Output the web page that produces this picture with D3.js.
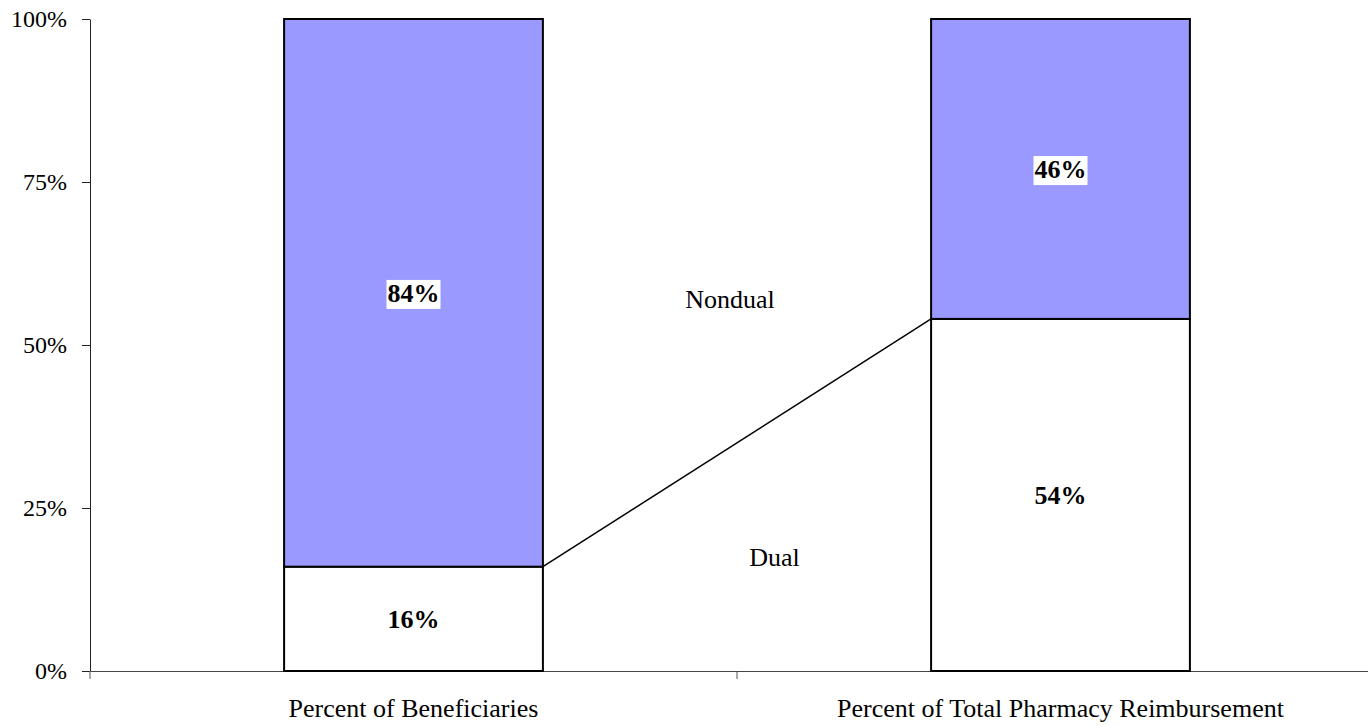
<!DOCTYPE html>
<html><head><meta charset="utf-8">
<script src="https://cdn.jsdelivr.net/npm/d3@7"></script>
<style>body{margin:0;background:#fff}svg{display:block}</style>
</head><body>
<svg id="chart" width="1368" height="726"></svg>
<script>
const categories = ["Percent of Beneficiaries", "Percent of Total Pharmacy Reimbursement"];
const dualValues = [0.16, 0.54];
const nondualValues = [0.84, 0.46];
const yTicks = [0, 0.25, 0.5, 0.75, 1];
const annotations = [
  {text: "Nondual", x: 0.4946, y: 0.57},
  {text: "Dual", x: 0.529, y: 0.175}
];

const svg = d3.select("#chart");
const font = "'Liberation Serif','Times New Roman',serif";
const x = d3.scaleBand().domain(categories).range([90, 1384]).paddingInner(0.6).paddingOuter(0.3);
const y = d3.scaleLinear().domain([0, 1]).range([671, 19]);

// axes
const yAxis = svg.append("g").attr("transform", "translate(90,0)")
  .call(d3.axisLeft(y).tickValues(yTicks).tickFormat(d3.format(".0%")).tickSize(8).tickSizeOuter(0));
yAxis.select(".domain").attr("stroke", "#222");
yAxis.selectAll(".tick line").attr("stroke", "#222");
yAxis.selectAll("text").attr("font-family", font).attr("font-size", 24).attr("fill", "#000").attr("x", -23);

const xAxis = svg.append("g").attr("transform", "translate(0,671)")
  .call(d3.axisBottom(x).tickSize(0).tickSizeOuter(0));
xAxis.select(".domain").attr("stroke", "#444");
xAxis.selectAll("text").attr("font-family", font).attr("font-size", 26).attr("fill", "#000").attr("y", 46).attr("dy", 0);
// boundary ticks between categories
const bounds = [90, 90 + x.step(), 90 + 2*x.step()];
svg.append("g").selectAll("line").data(bounds).join("line")
  .attr("x1", d => d).attr("x2", d => d).attr("y1", 671).attr("y2", 679)
  .attr("stroke", "#555").attr("stroke-width", 1);

// bars
const stacks = categories.map((c, i) => ({c, dual: dualValues[i], nondual: nondualValues[i]}));
const g = svg.append("g");
g.selectAll("rect.dual").data(stacks).join("rect").attr("class", "dual")
  .attr("x", d => x(d.c)).attr("width", x.bandwidth())
  .attr("y", d => y(d.dual)).attr("height", d => y(0) - y(d.dual))
  .attr("fill", "#fff").attr("stroke", "#000").attr("stroke-width", 2);
g.selectAll("rect.nondual").data(stacks).join("rect").attr("class", "nondual")
  .attr("x", d => x(d.c)).attr("width", x.bandwidth())
  .attr("y", d => y(d.dual + d.nondual)).attr("height", d => y(d.dual) - y(d.dual + d.nondual))
  .attr("fill", "#9999FF").attr("stroke", "#000").attr("stroke-width", 2);

// connector line
svg.append("line")
  .attr("x1", x(categories[0]) + x.bandwidth()).attr("y1", y(dualValues[0]))
  .attr("x2", x(categories[1])).attr("y2", y(dualValues[1]))
  .attr("stroke", "#000").attr("stroke-width", 1.5);

// labels
const labels = [];
stacks.forEach(d => {
  labels.push({c: d.c, v: d.dual, mid: d.dual/2, bg: false});
  labels.push({c: d.c, v: d.nondual, mid: d.dual + d.nondual/2, bg: true});
});
const lg = svg.append("g");
labels.forEach(l => {
  const cx = x(l.c) + x.bandwidth()/2, cy = y(l.mid);
  const t = lg.append("text").attr("x", cx).attr("y", cy).attr("dy", "0.35em")
    .attr("text-anchor", "middle").attr("font-family", font).attr("font-weight", "bold")
    .attr("font-size", 26).text(d3.format(".0%")(l.v));
  if (l.bg) {
    const b = t.node().getBBox();
    lg.insert("rect", () => t.node()).attr("x", b.x - 1).attr("y", b.y + 1).attr("width", b.width + 2).attr("height", b.height).attr("fill", "#fff");
  }
});

// annotations (x as fraction across plot width from left axis)
const xa = d3.scaleLinear().domain([0, 1]).range([90, 1384]);
svg.append("g").selectAll("text").data(annotations).join("text")
  .attr("x", d => xa(d.x)).attr("y", d => y(d.y)).attr("dy", "0.35em")
  .attr("text-anchor", "middle").attr("font-family", font).attr("font-size", 26)
  .text(d => d.text);
</script>
</body></html>
